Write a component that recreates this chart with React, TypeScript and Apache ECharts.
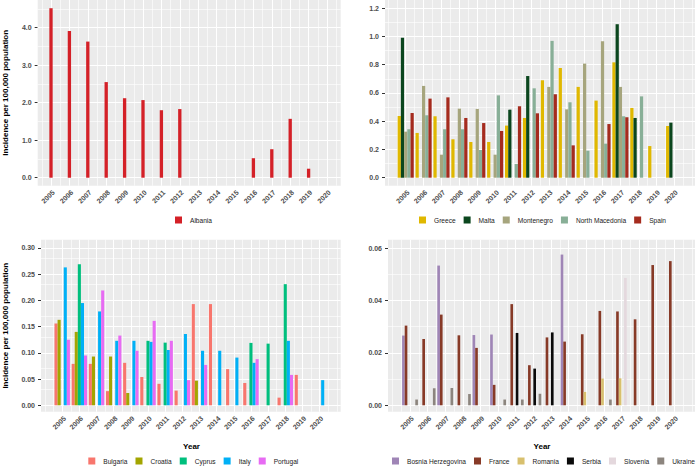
import React, { useEffect, useRef } from "react";
import * as echarts from "echarts";

// ---------- data ----------
const years = ["2005", "2006", "2007", "2008", "2009", "2010", "2011", "2012", "2013", "2014", "2015", "2016", "2017", "2018", "2019", "2020"];

const albania = [4.52, 3.91, 3.63, 2.55, 2.12, 2.07, 1.8, 1.83, 0, 0, 0, 0.52, 0.76, 1.57, 0.24, 0];

const greece = [0.437, 0.317, 0.435, 0.272, 0.253, 0.253, 0.369, 0.423, 0.69, 0.777, 0.643, 0.546, 0.817, 0.494, 0.224, 0.366];
const malta = [0.992, 0, 0, 0, 0, 0, 0.482, 0.72, 0, 0, 0, 0, 1.087, 0.423, 0, 0.39];
const montenegro = [0.326, 0.65, 0.163, 0.489, 0.487, 0.163, 0, 0, 0.643, 0.484, 0.808, 0.966, 0.643, 0, 0, 0];
const northMacedonia = [0.343, 0.442, 0.343, 0.343, 0.196, 0.583, 0.097, 0.633, 0.969, 0.534, 0.191, 0.241, 0.435, 0.576, 0, 0];
const spain = [0.458, 0.56, 0.569, 0.423, 0.387, 0.331, 0.506, 0.456, 0.591, 0.229, 0, 0.38, 0.428, 0, 0, 0];

const bulgaria = [0.156, 0.079, 0.079, 0.027, 0.081, 0.054, 0.041, 0.028, 0.193, 0.193, 0.069, 0.0426, 0, 0.0146, 0.058, 0];
const croatia = [0.163, 0.14, 0.093, 0.093, 0.0235, 0, 0, 0, 0.047, 0, 0, 0, 0, 0, 0, 0];
const cyprus = [0, 0.269, 0, 0, 0, 0.123, 0.1195, 0, 0, 0, 0, 0.119, 0.1176, 0.231, 0, 0];
const italy = [0.263, 0.195, 0.179, 0.123, 0.123, 0.121, 0.1055, 0.136, 0.104, 0.104, 0.091, 0.081, 0, 0.123, 0, 0.048];
const portugal = [0.125, 0.095, 0.219, 0.133, 0.104, 0.161, 0.123, 0.048, 0.077, 0, 0, 0.088, 0, 0.058, 0, 0];

const bosnia = [0.0266, 0, 0.0533, 0, 0.0268, 0.027, 0, 0, 0, 0.0575, 0, 0, 0, 0, 0, 0];
const france = [0.0304, 0.0253, 0.0346, 0.0267, 0.0219, 0.0078, 0.0386, 0.0153, 0.0259, 0.0243, 0.0271, 0.036, 0.0358, 0.0328, 0.0535, 0.055];
const romania = [0, 0, 0, 0, 0, 0, 0, 0, 0, 0, 0.0051, 0.0102, 0.0103, 0, 0, 0];
const serbia = [0, 0, 0, 0, 0, 0, 0.0276, 0.014, 0.0278, 0, 0, 0, 0, 0, 0, 0];
const slovenia = [0, 0, 0, 0, 0, 0, 0, 0, 0, 0, 0, 0, 0.0486, 0, 0, 0];
const ukraine = [0.0022, 0.0065, 0.0066, 0.0043, 0, 0.0022, 0.0022, 0.0044, 0, 0, 0, 0.0022, 0, 0, 0, 0];

const ticksP1 = [0, 1, 2, 3, 4];
const ticksP2 = [0, 0.2, 0.4, 0.6, 0.8, 1.0, 1.2];
const ticksP3 = [0, 0.05, 0.1, 0.15, 0.2, 0.25, 0.3];
const ticksP4 = [0, 0.02, 0.04, 0.06];

const yTitle = "Incidence per 100,000 population";
const xTitle = "Year";

// ---------- layout ----------
const FONT = "'Liberation Sans', Arial, Helvetica, sans-serif";

type S = { name: string; data: number[]; color: string };
type Panel = {
  bg: [number, number, number, number];
  dataLeft: number;
  dataWidth: number;
  xRange: [number, number];
  yRange: [number, number];
  ticks: number[];
  decimals: number;
  series: S[];
  legendLeft: number;
  legendTop: number;
  barWidth?: string;
};

const panels: Panel[] = [
  {
    bg: [37.7, 0, 303, 185.7],
    dataLeft: 41.8,
    dataWidth: 294.4,
    xRange: [2004.277, 2020.745],
    yRange: [-0.213, 4.739],
    ticks: ticksP1,
    decimals: 1,
    series: [{ name: "Albania", data: albania, color: "#D42027" }],
    legendLeft: 175,
    legendTop: 216.5,
    barWidth: "18%",
  },
  {
    bg: [385, 0, 310, 185.7],
    dataLeft: 396.75,
    dataWidth: 286.3,
    xRange: [2003.843, 2021.168],
    yRange: [-0.0567, 1.2585],
    ticks: ticksP2,
    decimals: 1,
    series: [
      { name: "Greece", data: greece, color: "#E0B800" },
      { name: "Malta", data: malta, color: "#0B461E" },
      { name: "Montenegro", data: montenegro, color: "#A6A57D" },
      { name: "North Macedonia", data: northMacedonia, color: "#88AF97" },
      { name: "Spain", data: spain, color: "#A52B1E" },
    ],
    legendLeft: 419,
    legendTop: 216.5,
  },
  {
    bg: [41, 239.7, 299.7, 172],
    dataLeft: 53.62,
    dataWidth: 274.56,
    xRange: [2003.765, 2021.23],
    yRange: [-0.0122, 0.3158],
    ticks: ticksP3,
    decimals: 2,
    series: [
      { name: "Bulgaria", data: bulgaria, color: "#F8766D" },
      { name: "Croatia", data: croatia, color: "#A3A500" },
      { name: "Cyprus", data: cyprus, color: "#00BF7D" },
      { name: "Italy", data: italy, color: "#00B0F6" },
      { name: "Portugal", data: portugal, color: "#E76BF3" },
    ],
    legendLeft: 88.3,
    legendTop: 457.5,
  },
  {
    bg: [388, 239.7, 307, 172],
    dataLeft: 401.19,
    dataWidth: 281.9,
    xRange: [2003.751, 2021.175],
    yRange: [-0.00244, 0.06317],
    ticks: ticksP4,
    decimals: 2,
    series: [
      { name: "Bosnia Herzegovina", data: bosnia, color: "#9F85B6" },
      { name: "France", data: france, color: "#873A27" },
      { name: "Romania", data: romania, color: "#D8C06E" },
      { name: "Serbia", data: serbia, color: "#0A0A0A" },
      { name: "Slovenia", data: slovenia, color: "#E4D8DD" },
      { name: "Ukraine", data: ukraine, color: "#8C857E" },
    ],
    legendLeft: 392,
    legendTop: 457.5,
  },
];

const round = (v: number) => Math.round(v * 1e6) / 1e6;

function gridLines(p: Panel) {
  const [x0, x1] = p.xRange;
  const [y0, y1] = p.yRange;
  const xMajor = years.map((y) => Number(y));
  const xMinor: number[] = [];
  for (let v = Math.floor(x0); v <= Math.ceil(x1); v += 0.5) {
    const inMajor = xMajor.indexOf(v) >= 0;
    if (!inMajor && v > x0 && v < x1) xMinor.push(v);
  }
  const step = p.ticks[1] - p.ticks[0];
  const yMinor: number[] = [];
  for (let i = -2; i <= p.ticks.length * 2; i++) {
    const v = round(p.ticks[0] + (i * step) / 2);
    if (i % 2 !== 0 && v > y0 && v < y1) yMinor.push(v);
  }
  const minorStyle = { color: "#FFFFFF", width: 0.6, type: "solid" as const };
  const majorStyle = { color: "#FFFFFF", width: 1.1, type: "solid" as const };
  return [
    ...xMinor.map((v) => ({ xAxis: v, lineStyle: minorStyle })),
    ...yMinor.map((v) => ({ yAxis: v, lineStyle: minorStyle })),
    ...xMajor.map((v) => ({ xAxis: v, lineStyle: majorStyle })),
    ...p.ticks.map((v) => ({ yAxis: v, lineStyle: majorStyle })),
  ];
}

function buildOption() {
  const grid: any[] = [];
  const xAxis: any[] = [];
  const yAxis: any[] = [];
  const series: any[] = [];
  const legend: any[] = [];

  panels.forEach((p, i) => {
    const [l, t, w, h] = p.bg;
    const gBg = i * 2;
    const gData = i * 2 + 1;
    grid.push({ left: l, top: t, width: w, height: h, show: true, backgroundColor: "#EBEBEB", borderWidth: 0 });
    grid.push({ left: p.dataLeft, top: t, width: p.dataWidth, height: h, show: false });

    xAxis.push({ type: "value", gridIndex: gBg, min: p.xRange[0], max: p.xRange[1], show: false });
    xAxis.push({
      type: "category",
      gridIndex: gData,
      data: years,
      axisLine: { show: false },
      axisTick: { show: true, alignWithLabel: true, length: 3, lineStyle: { color: "#333333", width: 1 } },
      axisLabel: {
        interval: 0,
        rotate: 45,
        margin: 3,
        fontSize: 7,
        fontWeight: "bold",
        fontFamily: FONT,
        color: "#4D4D4D",
        align: "right",
        verticalAlign: "top",
      },
      splitLine: { show: false },
    });

    yAxis.push({
      type: "value",
      gridIndex: gBg,
      min: p.yRange[0],
      max: p.yRange[1],
      axisLine: { show: false },
      axisTick: { show: true, length: 3, customValues: p.ticks, lineStyle: { color: "#333333", width: 1 } },
      axisLabel: {
        customValues: p.ticks,
        formatter: (v: number) => v.toFixed(p.decimals),
        margin: 6,
        fontSize: 7,
        fontWeight: "bold",
        fontFamily: FONT,
        color: "#4D4D4D",
      },
      splitLine: { show: false },
    });
    yAxis.push({ type: "value", gridIndex: gData, min: p.yRange[0], max: p.yRange[1], show: false, splitLine: { show: false } });

    series.push({
      type: "line",
      name: "_grid" + i,
      xAxisIndex: gBg,
      yAxisIndex: gBg,
      data: [],
      silent: true,
      z: 1,
      markLine: {
        z: 1,
        silent: true,
        symbol: "none",
        label: { show: false },
        animation: false,
        lineStyle: { type: "solid", color: "#FFFFFF" },
        data: gridLines(p),
      },
    });

    p.series.forEach((s) => {
      series.push({
        type: "bar",
        name: s.name,
        xAxisIndex: gData,
        yAxisIndex: gData,
        data: s.data,
        z: 3,
        itemStyle: { color: s.color },
        barGap: "0%",
        barCategoryGap: "10%",
        ...(p.barWidth ? { barWidth: p.barWidth } : {}),
        emphasis: { disabled: true },
        silent: true,
      });
    });

    legend.push({
      data: p.series.map((s) => s.name),
      left: p.legendLeft,
      top: p.legendTop,
      width: 420,
      orient: "horizontal",
      icon: "rect",
      itemWidth: 7,
      itemHeight: 7,
      itemGap: 8,
      padding: 0,
      selectedMode: false,
      textStyle: { fontSize: 6.6, fontFamily: FONT, color: "#1A1A1A", padding: [0, 0, 0, 3] },
    });
  });

  const titleStyle = { fontSize: 8, fontWeight: "bold", fontFamily: FONT, fill: "#000000", align: "center", verticalAlign: "middle" };
  const graphic = [
    { type: "text", x: 5, y: 92.8, rotation: Math.PI / 2, style: { ...titleStyle, text: yTitle } },
    { type: "text", x: 5, y: 325.7, rotation: Math.PI / 2, style: { ...titleStyle, text: yTitle } },
    { type: "text", x: 191.5, y: 446, style: { ...titleStyle, text: xTitle } },
    { type: "text", x: 542, y: 446, style: { ...titleStyle, text: xTitle } },
  ];

  return {
    animation: false,
    backgroundColor: "#FFFFFF",
    textStyle: { fontFamily: FONT },
    grid,
    xAxis,
    yAxis,
    series,
    legend,
    graphic,
  };
}

export default function App() {
  const ref = useRef<HTMLDivElement>(null);
  useEffect(() => {
    if (!ref.current) return;
    const chart = echarts.init(ref.current, undefined, { renderer: "svg" });
    chart.setOption(buildOption() as any);
    return () => chart.dispose();
  }, []);
  return <div ref={ref} style={{ position: "absolute", left: 0, top: 0, width: 700, height: 466 }} />;
}
